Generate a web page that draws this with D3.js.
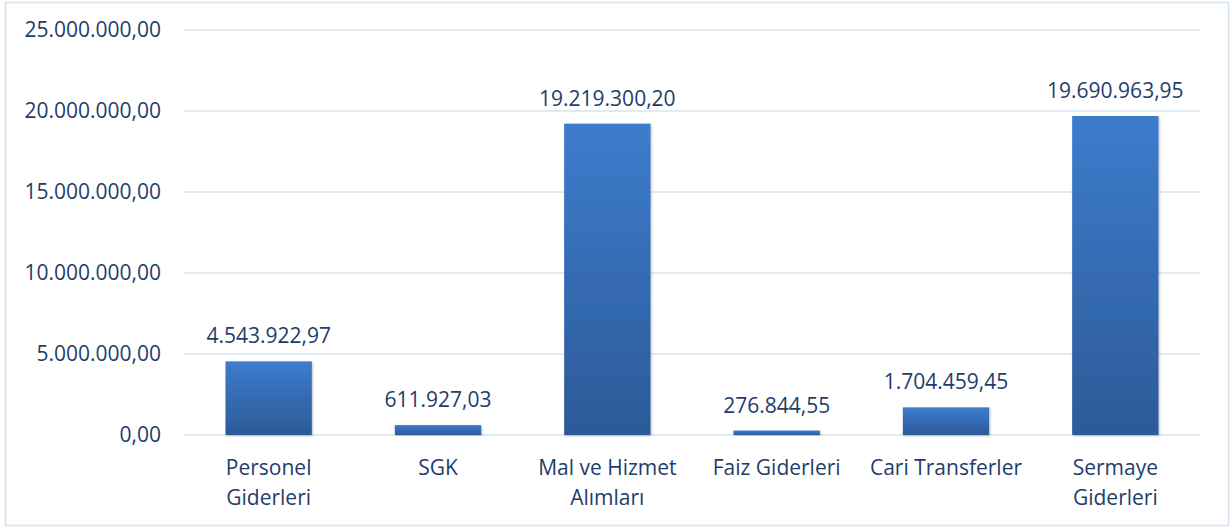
<!doctype html>
<html>
<head>
<meta charset="UTF-8">
<script src="https://d3js.org/d3.v7.min.js"></script>
<style>
  body { margin: 0; background: #fff; }
  svg text { font-family: "Open Sans", sans-serif; fill: #1f3d6a; }
</style>
</head>
<body>
<div id="chart"></div>
<script>
// data
var categories = [["Personel", "Giderleri"], ["SGK"], ["Mal ve Hizmet", "Alımları"],
                  ["Faiz Giderleri"], ["Cari Transferler"], ["Sermaye", "Giderleri"]];
var values = [4543922.97, 611927.03, 19219300.20, 276844.55, 1704459.45, 19690963.95];
var yTicks = [0, 5000000, 10000000, 15000000, 20000000, 25000000];

var W = 1232, H = 529;
var margin = {top: 30, right: 32, bottom: 94, left: 184};
var width = W - margin.left - margin.right,
    height = H - margin.top - margin.bottom;
var fontSize = "21px";

// turkish number format 1.234.567,89
var trFmt = d3.formatLocale({decimal: ",", thousands: ".", grouping: [3], currency: ["", ""]}).format(",.2f");

var svg = d3.select("#chart").append("svg")
    .attr("width", W)
    .attr("height", H);

var defs = svg.append("defs");
var grad = defs.append("linearGradient")
    .attr("id", "barGrad")
    .attr("x1", 0).attr("y1", 0).attr("x2", 0).attr("y2", 1);
grad.append("stop").attr("offset", "0%").attr("stop-color", "#3d7ccd");
grad.append("stop").attr("offset", "100%").attr("stop-color", "#2c5a98");

var shadow = defs.append("filter").attr("id", "shadow")
    .attr("x", "-20%").attr("y", "-5%").attr("width", "140%").attr("height", "115%");
shadow.append("feDropShadow").attr("dx", 1).attr("dy", 1).attr("stdDeviation", 1.2)
    .attr("flood-color", "#000").attr("flood-opacity", 0.25);

// outer frame
svg.append("rect")
    .attr("x", 5.5).attr("y", 2.5)
    .attr("width", 1223).attr("height", 523)
    .attr("fill", "none")
    .attr("stroke", "#d6e1ef")
    .attr("stroke-width", 1.5);

var g = svg.append("g")
    .attr("transform", "translate(" + margin.left + "," + margin.top + ")");

var x = d3.scaleBand()
    .domain(d3.range(categories.length))
    .range([0, width])
    .paddingInner(0.49)
    .paddingOuter(0.245);

var y = d3.scaleLinear()
    .domain([0, 25000000])
    .range([height, 0]);

// gridlines
g.append("g")
  .selectAll("line")
  .data(yTicks)
  .enter()
  .append("line")
    .attr("x1", 0).attr("x2", width)
    .attr("y1", d => y(d)).attr("y2", d => y(d))
    .attr("stroke", "#d9e3f1")
    .attr("stroke-width", 1.5);

// y axis labels
var yAxis = g.append("g")
    .call(d3.axisLeft(y).tickValues(yTicks).tickFormat(trFmt).tickSize(0).tickPadding(23));
yAxis.select(".domain").remove();
yAxis.selectAll("text")
    .attr("font-size", fontSize)
    .attr("fill", "#1f3d6a")
    .style("font-family", "'Open Sans', sans-serif");

// bars
g.append("g")
  .selectAll("rect")
  .data(values)
  .enter()
  .append("rect")
    .attr("x", (d, i) => x(i))
    .attr("y", d => y(d))
    .attr("width", x.bandwidth())
    .attr("height", d => height - y(d))
    .attr("fill", "url(#barGrad)")
    .attr("filter", "url(#shadow)");

// value labels
g.append("g")
  .selectAll("text")
  .data(values)
  .enter()
  .append("text")
    .attr("x", (d, i) => x(i) + x.bandwidth() / 2)
    .attr("y", d => y(d) - 18)
    .attr("text-anchor", "middle")
    .attr("font-size", fontSize)
    .text(d => trFmt(d));

// category labels
var cat = g.append("g")
  .selectAll("text")
  .data(categories)
  .enter()
  .append("text")
    .attr("x", (d, i) => x(i) + x.bandwidth() / 2)
    .attr("y", height + 40)
    .attr("text-anchor", "middle")
    .attr("font-size", fontSize);
cat.selectAll("tspan")
  .data(d => d)
  .enter()
  .append("tspan")
    .attr("x", function () { return d3.select(this.parentNode).attr("x"); })
    .attr("dy", (d, i) => i === 0 ? 0 : 30)
    .text(d => d);
</script>
</body>
</html>
